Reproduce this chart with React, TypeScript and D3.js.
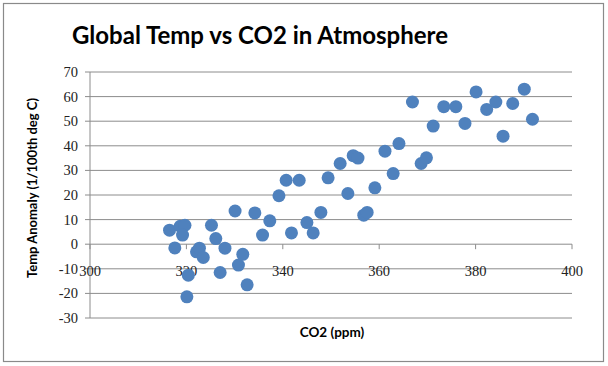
import React from 'react'
import * as d3 from 'd3'

// CO2 (ppm) readings, paired with the temperature anomaly below
const co2 = [
  316.5, 317.6, 318.7, 319.7, 319.2, 320.4, 320.1, 322.1, 322.7, 323.5,
  325.2, 326.1, 327.0, 328.0, 330.1, 331.7, 330.8, 332.6, 334.2, 335.8,
  337.3, 339.2, 340.7, 341.8, 343.4, 345.0, 346.3, 347.9, 349.4, 351.9,
  353.5, 354.6, 355.6, 356.8, 357.5, 359.1, 361.2, 362.9, 364.1, 366.9,
  368.7, 369.8, 371.2, 373.4, 375.9, 377.8, 380.1, 382.3, 384.2, 385.7,
  387.7, 390.1, 391.8
]

// temp anomaly, 1/100th deg C
const anomaly = [
  5.7, -1.5, 7.3, 7.7, 3.7, -12.6, -21.4, -3.1, -1.6, -5.4,
  7.7, 2.3, -11.5, -1.6, 13.5, -4.1, -8.5, -16.5, 12.7, 3.7,
  9.5, 19.7, 26, 4.6, 26, 8.8, 4.6, 12.9, 27, 32.8,
  20.6, 36, 35, 11.8, 12.9, 22.9, 37.8, 28.7, 40.9, 57.8,
  32.8, 35.1, 48, 55.9, 55.9, 49.1, 61.9, 54.8, 57.8, 43.9,
  57.2, 63, 50.8
]

const xTicks = [300, 320, 340, 360, 380, 400]
const yTicks = [-30, -20, -10, 0, 10, 20, 30, 40, 50, 60, 70]

const W = 608
const H = 366
const BLUE = '#4f81bd'
const GRID = '#8c8c8c'
const sans = 'Lato, "Open Sans", sans-serif'
const serif = '"Liberation Serif", "DejaVu Serif", serif'

export default function App() {
  const x = d3.scaleLinear().domain([300, 400]).range([90, 572])
  const y = d3.scaleLinear().domain([-30, 70]).range([318, 72])

  const points = co2.map((c, i) => ({ c, t: anomaly[i] }))

  return (
    <svg
      width={W}
      height={H}
      style={{ position: 'absolute', left: 0, top: 0, background: '#fff' }}
    >
      <rect x={3.5} y={3.5} width={600} height={358} fill="#fff" stroke="#8a8a8a" strokeWidth={1.2} />

      <text
        x={260}
        y={44}
        textAnchor="middle"
        fontFamily={sans}
        fontWeight={700}
        fontSize={24}
        fill="#000"
      >
        Global Temp vs CO2 in Atmosphere
      </text>

      {/* gridlines */}
      {yTicks.map(t => (
        <line key={'g' + t} x1={x(300)} x2={x(400)} y1={y(t)} y2={y(t)} stroke={GRID} strokeWidth={1} />
      ))}
      {/* y axis */}
      <line x1={x(300)} x2={x(300)} y1={y(70)} y2={y(-30)} stroke={GRID} strokeWidth={1} />
      {yTicks.map(t => (
        <line key={'yt' + t} x1={x(300) - 5} x2={x(300)} y1={y(t)} y2={y(t)} stroke={GRID} />
      ))}
      {yTicks.map(t => (
        <text
          key={'yl' + t}
          x={78}
          y={y(t)}
          dy="0.35em"
          textAnchor="end"
          fontFamily={serif}
          fontSize={14.5}
          fill="#222"
        >
          {t}
        </text>
      ))}

      {/* x axis ticks at y = 0 */}
      {xTicks.map(t => (
        <line key={'xt' + t} x1={x(t)} x2={x(t)} y1={y(0)} y2={y(0) + 5} stroke={GRID} />
      ))}
      {xTicks.map(t => (
        <text
          key={'xl' + t}
          x={x(t)}
          y={276}
          textAnchor="middle"
          fontFamily={serif}
          fontSize={14.5}
          fill="#222"
        >
          {t}
        </text>
      ))}

      {points.map((p, i) => (
        <circle key={i} cx={x(p.c)} cy={y(p.t)} r={6.5} fill={BLUE} />
      ))}

      <text
        transform={`translate(37, ${188}) rotate(-90)`}
        textAnchor="middle"
        fontFamily={sans}
        fontWeight={700}
        fontSize={13}
        fill="#000"
      >
        Temp Anomaly (1/100th deg C)
      </text>
      <text
        x={332}
        y={337}
        textAnchor="middle"
        fontFamily={sans}
        fontWeight={700}
        fontSize={13.5}
        fill="#000"
      >
        CO2 (ppm)
      </text>
    </svg>
  )
}
